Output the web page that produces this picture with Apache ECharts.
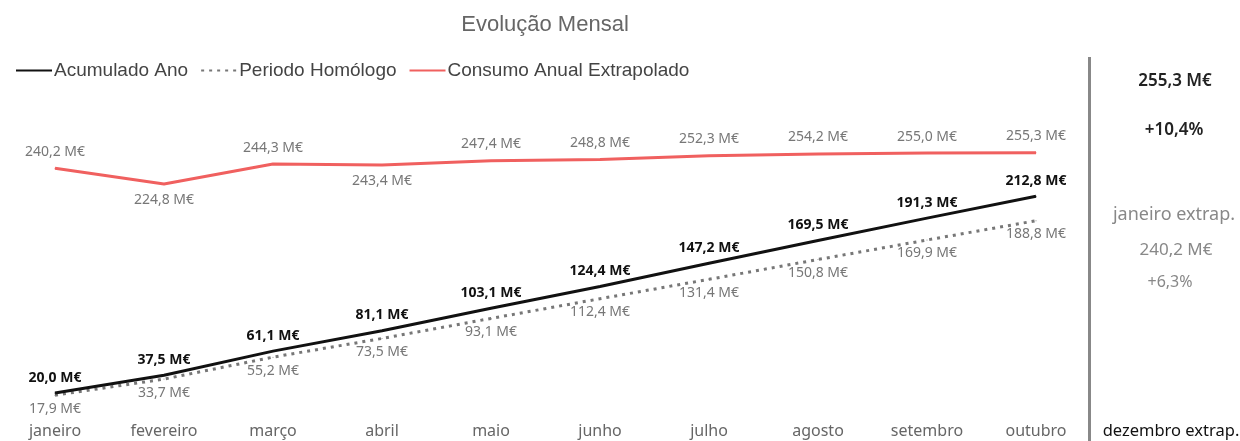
<!DOCTYPE html>
<html>
<head>
<meta charset="utf-8">
<title>Evolução Mensal</title>
<script src="https://cdn.jsdelivr.net/npm/echarts@6/dist/echarts.min.js"></script>
<style>
  html, body { margin: 0; padding: 0; background: #fff; }
  #chart { width: 1240px; height: 441px; }
</style>
</head>
<body>
<div id="chart"></div>
<script>
// dados
const meses = ["janeiro", "fevereiro", "março", "abril", "maio", "junho", "julho", "agosto", "setembro", "outubro"];
const acumuladoAno = [20.0, 37.5, 61.1, 81.1, 103.1, 124.4, 147.2, 169.5, 191.3, 212.8];
const periodoHomologo = [17.9, 33.7, 55.2, 73.5, 93.1, 112.4, 131.4, 150.8, 169.9, 188.8];
const consumoExtrapolado = [240.2, 224.8, 244.3, 243.4, 247.4, 248.8, 252.3, 254.2, 255.0, 255.3];

const kpiTotal = "255,3 M€";
const kpiVar = "+10,4%";
const kpiJanLabel = "janeiro extrap.";
const kpiJanValor = "240,2 M€";
const kpiJanVar = "+6,3%";
const kpiDezLabel = "dezembro extrap.";

const fmt = (v) => v.toFixed(1).replace(".", ",") + " M€";
const labelFont = "'Noto Sans', sans-serif";
const arial = "'Liberation Sans', Arial, sans-serif";

let chart = echarts.init(document.getElementById("chart"));

// rótulos do vermelho que ficam por baixo
const redBelow = [1, 3];

let option = {
  animation: false,
  title: {
    text: "Evolução Mensal",
    left: 540,
    top: 9,
    textAlign: "center",
    textStyle: { fontFamily: arial, fontSize: 22, fontWeight: "normal", color: "#666" }
  },
  legend: {
    left: 10,
    top: 56,
    itemWidth: 36,
    itemHeight: 14,
    itemGap: 12,
    itemStyle: { opacity: 0 },
    textStyle: { fontFamily: arial, fontSize: 19, color: "#444", padding: [0, 0, 0, -3] },
    data: ["Acumulado Ano", "Periodo Homólogo", "Consumo Anual Extrapolado"]
  },
  grid: { left: 55, right: 204, top: 148, bottom: 27.5 },
  xAxis: {
    type: "category",
    boundaryGap: false,
    data: meses,
    axisLine: { show: false },
    axisTick: { show: false },
    axisLabel: { color: "#666", fontSize: 16, fontFamily: labelFont, margin: 10 }
  },
  yAxis: { type: "value", min: 0, max: 260, show: false },
  series: [
    {
      name: "Periodo Homólogo",
      type: "line",
      data: periodoHomologo,
      symbol: "circle",
      symbolSize: 1,
      itemStyle: { color: "#777" },
      lineStyle: { color: "#777", width: 3, type: [3, 5] },
      label: {
        show: true, position: "bottom", distance: 6,
        color: "#777", fontSize: 14, fontFamily: labelFont,
        formatter: (p) => fmt(p.value)
      },
      z: 2
    },
    {
      name: "Acumulado Ano",
      type: "line",
      data: acumuladoAno,
      symbol: "circle",
      symbolSize: 1,
      itemStyle: { color: "#111" },
      lineStyle: { color: "#111", width: 3 },
      label: {
        show: true, position: "top", distance: 8,
        color: "#111", fontSize: 14, fontWeight: "bold", fontFamily: labelFont,
        formatter: (p) => fmt(p.value)
      },
      z: 3
    },
    {
      name: "Consumo Anual Extrapolado",
      type: "line",
      data: consumoExtrapolado.map((v, i) => ({
        value: v,
        label: { position: redBelow.includes(i) ? "bottom" : "top" }
      })),
      symbol: "circle",
      symbolSize: 1,
      itemStyle: { color: "#f0605f" },
      lineStyle: { color: "#f0605f", width: 3 },
      label: {
        show: true, distance: 9,
        color: "#777", fontSize: 14, fontFamily: labelFont,
        formatter: (p) => fmt(p.value)
      },
      z: 2
    }
  ],
  graphic: [
    { type: "rect", shape: { x: 1088, y: 57, width: 3, height: 384 }, style: { fill: "#888" } },
    { type: "text", x: 1175, y: 81, style: { text: kpiTotal, align: "center", verticalAlign: "middle", fontSize: 17, fontWeight: 600, fontFamily: labelFont, fill: "#222" } },
    { type: "text", x: 1174, y: 130, style: { text: kpiVar, align: "center", verticalAlign: "middle", fontSize: 17, fontWeight: 600, fontFamily: labelFont, fill: "#222" } },
    { type: "text", x: 1174, y: 215, style: { text: kpiJanLabel, align: "center", verticalAlign: "middle", fontSize: 18, fontFamily: labelFont, fill: "#888" } },
    { type: "text", x: 1176, y: 250, style: { text: kpiJanValor, align: "center", verticalAlign: "middle", fontSize: 17, fontFamily: labelFont, fill: "#888" } },
    { type: "text", x: 1170, y: 282, style: { text: kpiJanVar, align: "center", verticalAlign: "middle", fontSize: 16, fontFamily: labelFont, fill: "#888" } },
    { type: "text", x: 1171, y: 431, style: { text: kpiDezLabel, align: "center", verticalAlign: "middle", fontSize: 16.5, fontFamily: labelFont, fill: "#111" } }
  ]
};

chart.setOption(option);
</script>
</body>
</html>
